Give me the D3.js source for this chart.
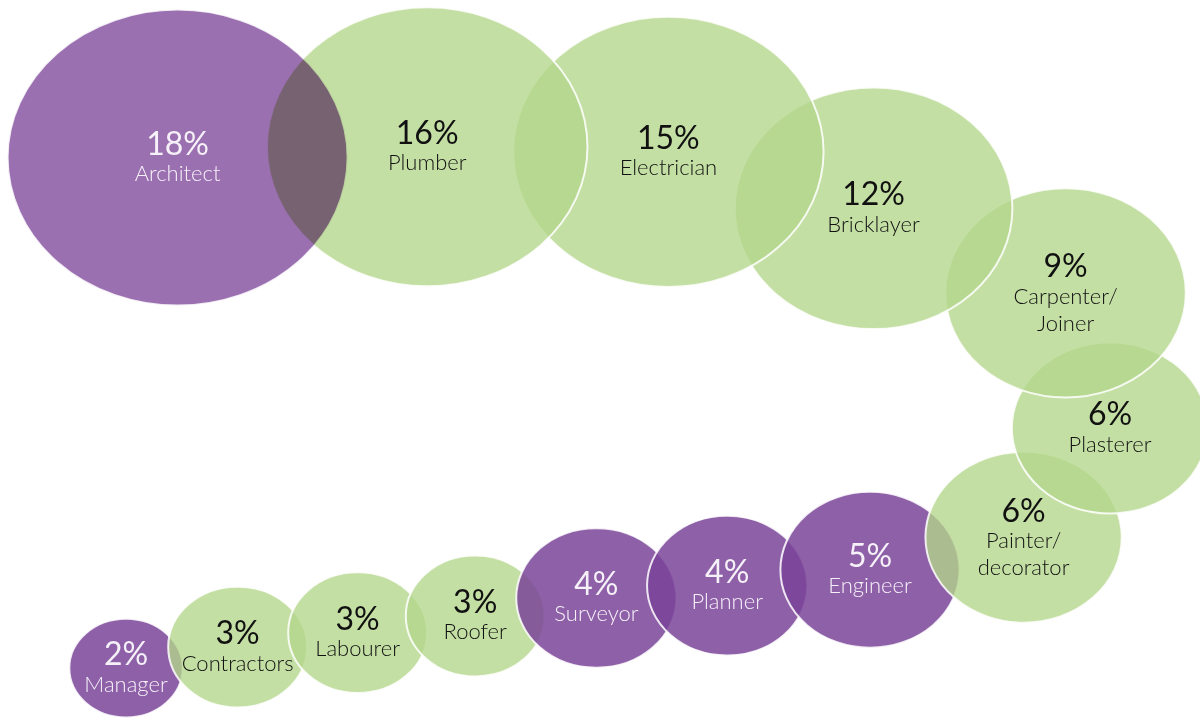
<!DOCTYPE html>
<html>
<head>
<meta charset="utf-8">
<script src="https://cdn.jsdelivr.net/npm/d3@7"></script>
<style>
  html, body { margin: 0; padding: 0; background: #ffffff; }
  svg { display: block; }
</style>
</head>
<body>
<svg id="chart" width="1200" height="723"></svg>
<script>
// ---- data ----
const categories = ["Architect", "Plumber", "Electrician", "Bricklayer", "Carpenter/Joiner",
  "Plasterer", "Painter/decorator", "Engineer", "Planner", "Surveyor",
  "Roofer", "Labourer", "Contractors", "Manager"];
const shares = [18, 16, 15, 12, 9, 6, 6, 5, 4, 4, 3, 3, 3, 2];
const xValues = [14.8, 35.6, 55.7, 72.8, 88.8, 92.5, 85.3, 72.5, 60.6, 49.7, 39.6, 29.8, 19.8, 10.5];
const yValues = [78.2, 79.7, 79.0, 71.2, 59.5, 40.8, 25.7, 21.2, 19.0, 17.3, 14.8, 12.5, 10.5, 7.6];
const groups = ["design", "trade", "trade", "trade", "trade", "trade", "trade",
  "design", "design", "design", "trade", "trade", "trade", "design"];

// ---- layout ----
const W = 1200, H = 723;
const svg = d3.select("#chart");

const x = d3.scaleLinear().domain([0, 100]).range([0, W]);
const y = d3.scaleLinear().domain([0, 100]).range([H, 0]);
const rx = d3.scaleSqrt().domain([0, 18]).range([0, 170]);
const ry = d3.scaleSqrt().domain([0, 18]).range([0, 148]);

const fill = d3.scaleOrdinal().domain(["design", "trade"]).range(["#7a4499", "#b4d68b"]);
const fillOpacity = d3.scaleOrdinal().domain(["design", "trade"]).range([0.85, 0.78]);
const textColor = d3.scaleOrdinal().domain(["design", "trade"]).range(["#f6f1f8", "#111111"]);

const data = categories.map((c, i) => ({
  name: c, value: shares[i], x: xValues[i], y: yValues[i], group: groups[i], index: i
}));

// draw in reverse so earlier (larger) bubbles sit on top
const order = data.slice().reverse();

const g = svg.append("g");
g.selectAll("ellipse")
  .data(order)
  .join("ellipse")
  .attr("cx", d => x(d.x))
  .attr("cy", d => y(d.y))
  .attr("rx", d => rx(d.value))
  .attr("ry", d => ry(d.value))
  .attr("fill", d => d.index === 0 ? "#9b70b1" : fill(d.group))
  .attr("fill-opacity", d => d.index === 0 ? 1 : fillOpacity(d.group))
  .style("mix-blend-mode", d => d.index === 0 ? "multiply" : null)
  .attr("stroke", "#ffffff")
  .attr("stroke-width", 2)
  .attr("stroke-opacity", 0.85);

// labels
const labels = svg.append("g")
  .attr("font-family", "Lato, 'Open Sans', sans-serif")
  .attr("text-anchor", "middle");

data.forEach(d => {
  const cx = x(d.x), cy = y(d.y);
  const lines = d.name.includes("/") ? [d.name.split("/")[0] + "/", d.name.split("/")[1]] : [d.name];
  const gap = 31, lh = 27;
  const span = gap + (lines.length - 1) * lh;
  const mid = cy + 1 + (lines.length - 1);
  const valueMid = mid - span / 2;
  labels.append("text")
    .attr("x", cx)
    .attr("y", valueMid + 11.5)
    .attr("font-size", 32)
    .attr("font-weight", 400)
    .attr("fill", textColor(d.group))
    .text(d.value + "%");
  lines.forEach((ln, k) => {
    labels.append("text")
      .attr("x", cx)
      .attr("y", valueMid + gap + k * lh + 7)
      .attr("font-size", 22)
      .attr("font-weight", 300)
      .attr("fill", textColor(d.group))
      .text(ln);
  });
});
</script>
</body>
</html>
